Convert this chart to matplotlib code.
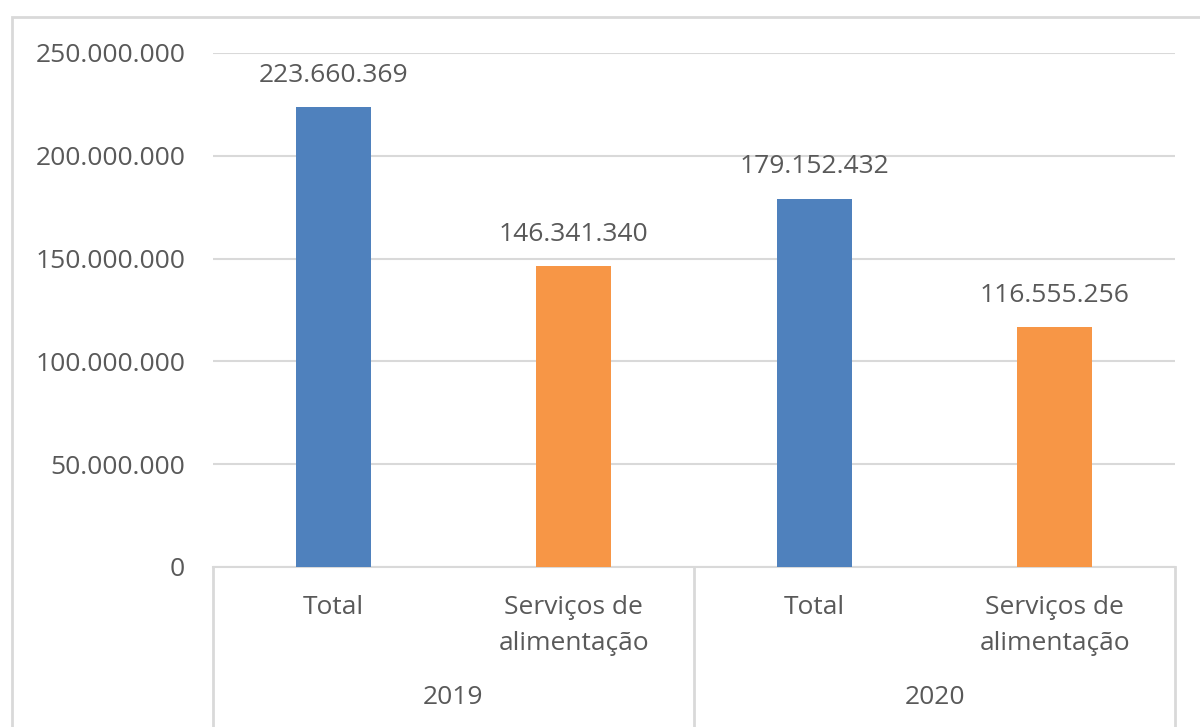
#!/usr/bin/env python3
"""Bar chart: total vs food services, 2019 and 2020 (Excel-style two-level axis)."""

import matplotlib
matplotlib.use("Agg")
import matplotlib.pyplot as plt
from matplotlib.patches import Rectangle
from matplotlib.ticker import FuncFormatter, MultipleLocator

YEARS = ["2019", "2020"]
CATEGORIES = ["Total", "Serviços de\nalimentação"]
VALUES = [223660369, 146341340, 179152432, 116555256]

BLUE, ORANGE = "#4f81bd", "#f79646"
TEXT, GRID = "#595959", "#d9d9d9"
FONT = "Open Sans"
FS = 19


def fmt(v):
    return f"{v:,.0f}".replace(",", ".")


def main():
    fig = plt.figure(figsize=(12, 7.27), dpi=100)
    fig.patch.set_facecolor("white")
    ax = fig.add_axes([213 / 1200, 1 - 567 / 727, (1175 - 213) / 1200, (567 - 53) / 727])

    n = len(YEARS) * len(CATEGORIES)
    xs = list(range(n))
    colors = [BLUE, ORANGE] * len(YEARS)
    bars = ax.bar(xs, VALUES, width=0.31, color=colors, zorder=3)

    ax.set_xlim(-0.5, n - 0.5)
    ax.set_ylim(0, 250_000_000)
    ax.yaxis.set_major_locator(MultipleLocator(50_000_000))
    ax.yaxis.set_major_formatter(FuncFormatter(lambda v, _: fmt(v)))
    ax.grid(axis="y", color=GRID, linewidth=1.5, zorder=0)
    for s in ("top", "right", "left"):
        ax.spines[s].set_visible(False)
    ax.spines["bottom"].set_color(GRID)
    ax.spines["bottom"].set_linewidth(1.5)
    ax.set_xticks([])
    ax.tick_params(axis="y", length=0, pad=20, labelsize=FS, labelcolor=TEXT)
    for lab in ax.get_yticklabels():
        lab.set_fontfamily(FONT)

    for b, v in zip(bars, VALUES):
        ax.annotate(fmt(v), (b.get_x() + b.get_width() / 2, v),
                    xytext=(0, 23), textcoords="offset points",
                    ha="center", va="center", fontsize=FS, color=TEXT, family=FONT)

    # two-level category axis
    xtr = ("data", "axes fraction")
    for i, x in enumerate(xs):
        cat = CATEGORIES[i % len(CATEGORIES)]
        ax.annotate(cat, (x, 0), xycoords=xtr, xytext=(0, -20), textcoords="offset points",
                    ha="center", va="top", fontsize=FS, color=TEXT, family=FONT,
                    linespacing=1.58, annotation_clip=False)
    k = len(CATEGORIES)
    for j, yr in enumerate(YEARS):
        xc = j * k + (k - 1) / 2
        ax.annotate(yr, (xc, 0), xycoords=xtr, xytext=(0, -94), textcoords="offset points",
                    ha="center", va="center", fontsize=FS, color=TEXT, family=FONT,
                    annotation_clip=False)
    for j in range(len(YEARS) + 1):
        xb = j * k - 0.5
        ax.plot([xb, xb], [0, -0.35], transform=ax.get_xaxis_transform(),
                color=GRID, linewidth=2, clip_on=False)

    # outer chart frame
    fig.add_artist(Rectangle((12 / 1200, -0.1), 1.2, 1.1 - 17 / 727,
                             transform=fig.transFigure, fill=False,
                             edgecolor=GRID, linewidth=2))

    fig.savefig("out.png", dpi=100, facecolor="white")


if __name__ == "__main__":
    main()
